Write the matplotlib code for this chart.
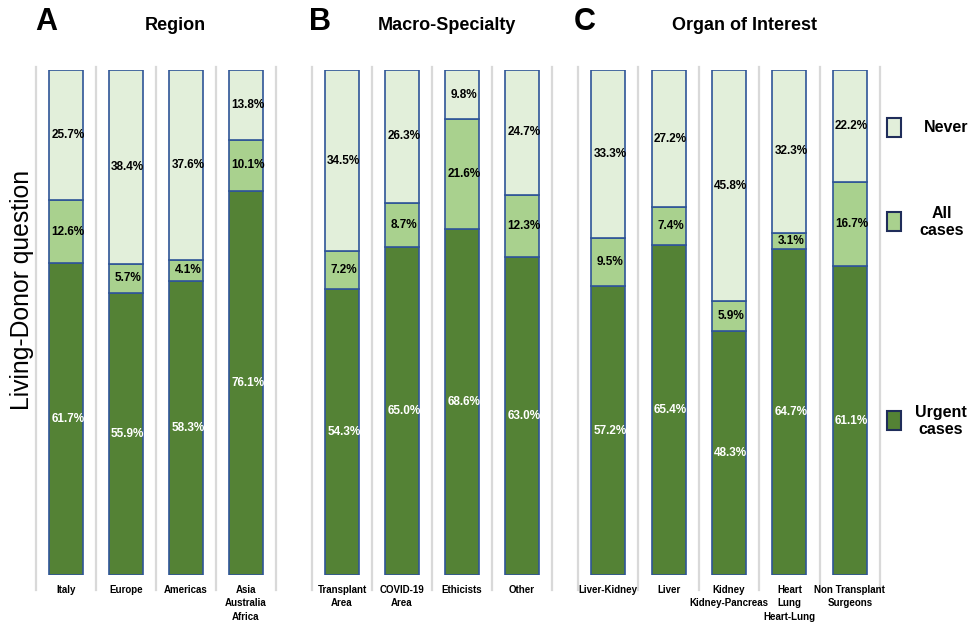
import numpy as np
import matplotlib
matplotlib.use('Agg')
import matplotlib.pyplot as plt
from matplotlib.patches import Rectangle

plt.rcParams['font.family'] = ['Liberation Sans', 'DejaVu Sans']

# Datos de cada panel (porcentajes)
region_labels = ['Italy', 'Europe', 'Americas', 'Asia\nAustralia\nAfrica']
region_urgent = [61.7, 55.9, 58.3, 76.1]
region_all = [12.6, 5.7, 4.1, 10.1]
region_never = [25.7, 38.4, 37.6, 13.8]

macro_labels = ['Transplant\nArea', 'COVID-19\nArea', 'Ethicists', 'Other']
macro_urgent = [54.3, 65.0, 68.6, 63.0]
macro_all = [7.2, 8.7, 21.6, 12.3]
macro_never = [34.5, 26.3, 9.8, 24.7]

organ_labels = ['Liver-Kidney', 'Liver', 'Kidney\nKidney-Pancreas',
                'Heart\nLung\nHeart-Lung', 'Non Transplant\nSurgeons']
organ_urgent = [57.2, 65.4, 48.3, 64.7, 61.1]
organ_all = [9.5, 7.4, 5.9, 3.1, 16.7]
organ_never = [33.3, 27.2, 45.8, 32.3, 22.2]

# Colores
c_urgent = '#548235'
c_all = '#A9D18E'
c_never = '#E2EFDA'
c_edge = '#2F5597'
c_grid = '#D9D9D9'

fig = plt.figure(figsize=(9.73, 6.25), dpi=100)

# letra, titulo, datos, borde izq/der del panel (px), centro del titulo, centro de la letra
paneles = [
    ('A', 'Region', region_labels, region_urgent, region_all, region_never, 36, 276, 175, 46),
    ('B', 'Macro-Specialty', macro_labels, macro_urgent, macro_all, macro_never, 312, 552, 447, 320),
    ('C', 'Organ of Interest', organ_labels, organ_urgent, organ_all, organ_never, 578, 880, 745, 585),
]

W, H = 973.0, 625.0
y0 = (H - 575) / H
alto = (575 - 70) / H

for letra, titulo, labels, urg, alls, nev, px0, px1, tx, lx in paneles:
    ax = fig.add_axes([px0 / W, y0, (px1 - px0) / W, alto])
    n = len(labels)
    x = np.arange(n)
    urg = np.array(urg)
    alls = np.array(alls)
    nev = np.array(nev)
    total = urg + alls + nev
    # Normalizamos a 100% para dibujar
    hu = urg / total * 100
    ha = alls / total * 100
    hn = nev / total * 100
    ax.bar(x, hu, width=0.56, color=c_urgent, edgecolor=c_edge, linewidth=1.2, zorder=3)
    ax.bar(x, ha, bottom=hu, width=0.56, color=c_all, edgecolor=c_edge, linewidth=1.2, zorder=3)
    ax.bar(x, hn, bottom=hu + ha, width=0.56, color=c_never, edgecolor=c_edge, linewidth=1.2, zorder=3)

    # Etiquetas de porcentaje
    for i in range(n):
        ax.text(x[i] + 0.03, hu[i] / 2, '%.1f%%' % urg[i], ha='center', va='center',
                fontsize=8.5, fontweight='bold', color='white', zorder=4)
        ax.text(x[i] + 0.03, hu[i] + ha[i] / 2, '%.1f%%' % alls[i], ha='center', va='center',
                fontsize=8.5, fontweight='bold', color='black', zorder=4)
        ax.text(x[i] + 0.03, hu[i] + ha[i] + hn[i] / 2, '%.1f%%' % nev[i], ha='center', va='center',
                fontsize=8.5, fontweight='bold', color='black', zorder=4)

    # Lineas grises separadoras
    trans = ax.get_xaxis_transform()
    for s in np.arange(n + 1) - 0.5:
        ax.plot([s, s], [-0.03, 1.005], color=c_grid, linewidth=1.6, transform=trans,
                clip_on=False, zorder=1)

    ax.set_xlim(-0.5, n - 0.5)
    ax.set_ylim(0, 100)
    ax.set_xticks(x)
    ax.set_xticklabels(labels, fontsize=7, fontweight='bold', va='top', linespacing=1.45)
    ax.tick_params(axis='x', length=0, pad=7)
    ax.set_yticks([])
    for sp in ax.spines.values():
        sp.set_visible(False)

    # Titulos
    fig.text(tx / W, 1 - 25 / H, titulo, ha='center', va='center',
             fontsize=13, fontweight='bold')
    fig.text(lx / W, 1 - 22 / H, letra, ha='center', va='center',
             fontsize=22, fontweight='bold')

fig.text(22 / W, 1 - 290 / H, 'Living-Donor question', rotation=90, ha='center', va='center',
         fontsize=17.8)

# Leyenda a mano
leyenda = [('Never', c_never, 128, 946), ('All\ncases', c_all, 222, 942), ('Urgent\ncases', c_urgent, 421, 941)]
for texto, color, py, tx in leyenda:
    fig.patches.append(Rectangle((887 / W, 1 - (py + 9) / H), 14 / W, 19 / H, facecolor=color,
                                 edgecolor='#1F2D5A', linewidth=1.5, transform=fig.transFigure))
    fig.text(tx / W, 1 - py / H, texto, ha='center', va='center', fontsize=11.5, fontweight='bold',
             linespacing=1.2)

fig.savefig('out.png', dpi=100)
